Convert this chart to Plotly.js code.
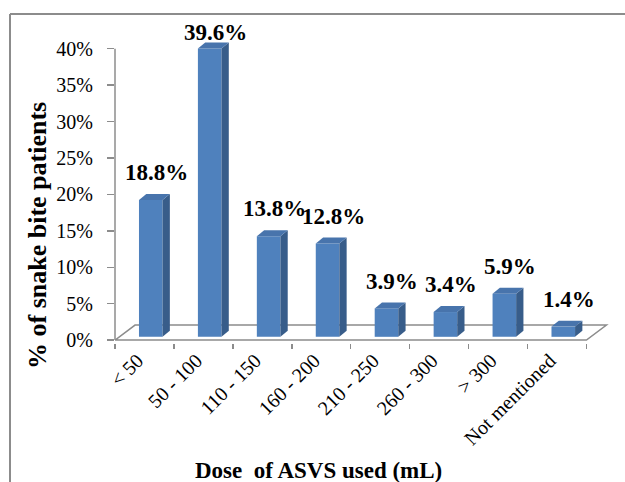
<!DOCTYPE html>
<html>
<head>
<meta charset="utf-8">
<script src="https://cdn.plot.ly/plotly-3.0.1.min.js"></script>
<style>html,body{margin:0;padding:0;background:#fff;}#chart{width:625px;height:482px;}</style>
</head>
<body>
<div id="chart"></div>
<script>
// ---- data ----
const categories = ["< 50", "50 - 100", "110 - 150", "160 - 200", "210 - 250", "260 - 300", "> 300", "Not mentioned"];
const percentValues = [18.8, 39.6, 13.8, 12.8, 3.9, 3.4, 5.9, 1.4];
const valueLabels = ["18.8%", "39.6%", "13.8%", "12.8%", "3.9%", "3.4%", "5.9%", "1.4%"];
const yTickValues = [0, 5, 10, 15, 20, 25, 30, 35, 40];
const yTickLabels = ["0%", "5%", "10%", "15%", "20%", "25%", "30%", "35%", "40%"];
const xTitle = "Dose \u00A0of ASVS used (mL)";
const yTitle = "% of snake bite patients";

// ---- style / geometry (pseudo-3D) ----
const FRONT = "#4F81BD", SIDE = "#385D8A", TOP = "#4874AC";
const AXIS = "#8c8c8c";
const SERIF = "Liberation Serif";
const BASE = 0.45;           // bar lift above front floor edge
const BAR_OFF = -0.093, BAR_W = 0.4;
const DX = 0.124, DY = 0.82; // bar depth
const FDX = 0.34, FDY = 2.06; // floor depth
const LBL_GAP = 0.95, LBL_MAX = 40.2, LBL_DX = 0.2;
const M = {l: 115, r: 15, t: 40, b: 139};
const W = 625, H = 482;
const PW = W - M.l - M.r, PH = H - M.t - M.b;
const px = x => (x - M.l) / PW;
const py = y => (H - M.b - y) / PH;

const idx = categories.map((c, i) => i);
const shapes = [];
// floor
shapes.push({type: "path", xref: "x", yref: "y", layer: "below",
  path: `M ${-0.5},0 L ${-0.5 + FDX},${FDY} L ${categories.length - 0.5 + FDX},${FDY} L ${categories.length - 0.5},0 Z`,
  line: {color: AXIS, width: 1.5}, fillcolor: "rgba(0,0,0,0)"});
// y axis line
shapes.push({type: "line", xref: "paper", yref: "y", x0: 0, x1: 0, y0: 0, y1: yTickValues[yTickValues.length - 1],
  line: {color: AXIS, width: 1.5}});
// bar sides and tops
percentValues.forEach((v, i) => {
  const L = i + BAR_OFF, R = L + BAR_W, b = BASE, t = BASE + v;
  shapes.push({type: "path", xref: "x", yref: "y", layer: "above",
    path: `M ${R},${b} L ${R + DX},${b + DY} L ${R + DX},${t + DY} L ${R},${t} Z`,
    line: {width: 0}, fillcolor: SIDE});
  shapes.push({type: "path", xref: "x", yref: "y", layer: "above",
    path: `M ${L},${t} L ${L + DX},${t + DY} L ${R + DX},${t + DY} L ${R},${t} Z`,
    line: {width: 0}, fillcolor: TOP});
});
// chart border (top and left)
shapes.push({type: "line", xref: "paper", yref: "paper", x0: px(10), x1: px(626), y0: py(14), y1: py(14), line: {color: AXIS, width: 2}});
shapes.push({type: "line", xref: "paper", yref: "paper", x0: px(10), x1: px(10), y0: py(14), y1: py(483), line: {color: AXIS, width: 2}});

const annotations = percentValues.map((v, i) => ({
  x: i + LBL_DX, y: Math.min(v + BASE + DY + LBL_GAP, LBL_MAX), xref: "x", yref: "y",
  text: "<b>" + valueLabels[i] + "</b>", showarrow: false, xanchor: "center", yanchor: "bottom",
  font: {family: SERIF, size: 23, color: "#000"}
}));
annotations.push({xref: "paper", yref: "paper", x: px(318), y: py(470), text: "<b>" + xTitle + "</b>",
  showarrow: false, xanchor: "center", yanchor: "middle", font: {family: SERIF, size: 23, color: "#000"}});
annotations.push({xref: "paper", yref: "paper", x: px(37), y: py(236), text: "<b>" + yTitle + "</b>", textangle: -90,
  showarrow: false, xanchor: "center", yanchor: "middle", font: {family: SERIF, size: 26, color: "#000"}});

const trace = {
  type: "bar", x: idx, y: percentValues, base: BASE, width: BAR_W, offset: BAR_OFF,
  marker: {color: FRONT, line: {width: 0}}, hoverinfo: "skip"
};

const layout = {
  width: W, height: H, margin: M, showlegend: false,
  paper_bgcolor: "#fff", plot_bgcolor: "rgba(0,0,0,0)",
  font: {family: SERIF},
  xaxis: {type: "linear", range: [-0.5, 7.9], tickmode: "array", tickvals: idx, ticktext: categories,
    tickangle: -45, ticks: "", showgrid: false, zeroline: false, showline: false,
    tickfont: {family: SERIF, size: 20, color: "#000"}, ticklabelstandoff: 1, ticklabelshift: -7,
    minor: {tick0: -0.5, dtick: 1, ticks: "outside", ticklen: 5, tickcolor: AXIS, tickwidth: 1.5, showgrid: false}},
  yaxis: {range: [-0.4, 41.2], tickmode: "array", tickvals: yTickValues, ticktext: yTickLabels,
    ticks: "outside", ticklen: 7, tickcolor: AXIS, tickwidth: 1.5, showgrid: false, zeroline: false, showline: false,
    tickfont: {family: SERIF, size: 20, color: "#000"}, ticklabelstandoff: 10},
  shapes: shapes, annotations: annotations
};

Plotly.newPlot("chart", [trace], layout, {staticPlot: true, displayModeBar: false});
</script>
</body>
</html>
